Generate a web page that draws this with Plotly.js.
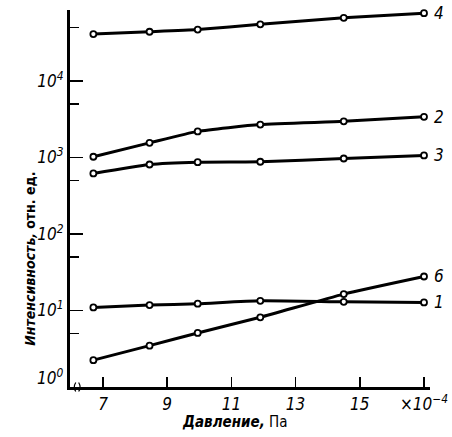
<!DOCTYPE html>
<html>
<head>
<meta charset="utf-8">
<script src="https://cdn.plot.ly/plotly-3.0.1.min.js"></script>
<style>html,body{margin:0;padding:0;background:#fff;}#chart{width:452px;height:437px;}</style>
</head>
<body>
<div id="chart"></div>
<script>
// Pressure, x 10^-4 Pa
const pressure = [6.7, 8.45, 9.95, 11.9, 14.5, 17.0];
// Intensity, arbitrary units
const curve4 = [41000, 44000, 47000, 55000, 67000, 77000];
const curve2 = [1020, 1550, 2190, 2690, 2960, 3390];
const curve3 = [617, 808, 866, 877, 968, 1060];
const curve1 = [10.9, 11.7, 12.2, 13.3, 12.9, 12.7];
const curve6 = [2.23, 3.45, 5.06, 8.1, 16.3, 27.7];
const curveNames = ['4', '2', '3', '1', '6'];
const curveData = [curve4, curve2, curve3, curve1, curve6];

const xTickVals = [7, 9, 11, 13, 15, 17];
const xTickText = ['7', '9', '11', '13', '15', '×10<sup>−4</sup>'];
const yTickVals = [1, 10, 100, 1000, 10000];
const yTickText = ['', '10<sup>1</sup>', '10<sup>2</sup>', '10<sup>3</sup>', '10<sup>4</sup>'];
const yBottomLabel = '10<sup>0</sup>';
const yMinorVals = [5, 50, 500, 5000, 50000];

const fam = 'Liberation Sans Narrow, DejaVu Sans Condensed, Arial';
const tickFont = {family: fam, size: 17, color: '#000', style: 'italic'};

const traces = curveData.map((ys, i) => ({
  x: pressure, y: ys, name: curveNames[i], type: 'scatter', mode: 'lines+markers',
  line: {color: '#000', width: 3, shape: 'spline', smoothing: 0.5},
  marker: {symbol: 'circle', size: 6, color: '#fff', line: {color: '#000', width: 1.8}},
  cliponaxis: false, showlegend: false
}));

const annotations = curveData.map((ys, i) => ({
  x: pressure[pressure.length - 1], y: Math.log10(ys[ys.length - 1]),
  xref: 'x', yref: 'y', text: '<i>' + curveNames[i] + '</i>', showarrow: false,
  xanchor: 'left', xshift: 8, font: {family: fam, size: 17, color: '#000'}
}));
annotations.push({
  xref: 'paper', yref: 'y', x: 0, y: Math.log10(yTickVals[0]), xanchor: 'right', yanchor: 'middle',
  xshift: -5, yshift: 10, showarrow: false, text: '<i>' + yBottomLabel + '</i>',
  font: {family: fam, size: 17, color: '#000'}
});
annotations.push({
  xref: 'paper', yref: 'paper', x: -0.139, y: 0.34, textangle: -90, showarrow: false,
  text: '<b><i>Интенсивность,</i></b> <b>отн. ед.</b>',
  font: {family: 'DejaVu Sans Condensed, Liberation Sans Narrow, Arial', size: 14, color: '#000'}
});
annotations.push({
  xref: 'paper', yref: 'paper', x: 0.458, y: -0.093, yanchor: 'middle', showarrow: false,
  text: '<b><i>Давление,</i></b> Па',
  font: {family: 'DejaVu Sans Condensed, Liberation Sans Narrow, Arial', size: 15, color: '#000'}
});

const layout = {
  width: 452, height: 437,
  margin: {l: 70, r: 22, t: 10, b: 50},
  paper_bgcolor: '#fff', plot_bgcolor: '#fff',
  xaxis: {
    range: [5.972, 17.187], showgrid: false, zeroline: false,
    showline: true, linecolor: '#000', linewidth: 2.5,
    tickmode: 'array', tickvals: xTickVals, ticktext: xTickText,
    ticks: 'inside', ticklen: 10, tickwidth: 1.5, tickcolor: '#000',
    tickfont: tickFont
  },
  yaxis: {
    type: 'log', range: [-0.003, 4.928], showgrid: false, zeroline: false,
    showline: true, linecolor: '#000', linewidth: 3,
    tickmode: 'array', tickvals: yTickVals, ticktext: yTickText,
    ticks: 'inside', ticklen: 13, tickwidth: 1.5, tickcolor: '#000',
    tickfont: tickFont,
    minor: {tickmode: 'array', tickvals: yMinorVals, ticks: 'inside', ticklen: 9, tickwidth: 1.5, tickcolor: '#000', showgrid: false}
  },
  annotations: annotations,
  shapes: [
    {type: 'path', xref: 'paper', yref: 'paper', path: 'M 0.016 -0.012 Q 0.008 0 0.016 0.012', line: {color: '#000', width: 1.2}},
    {type: 'path', xref: 'paper', yref: 'paper', path: 'M 0.024 -0.012 Q 0.032 0 0.024 0.012', line: {color: '#000', width: 1.2}}
  ]
};

Plotly.newPlot('chart', traces, layout, {staticPlot: true, displayModeBar: false});
</script>
</body>
</html>
